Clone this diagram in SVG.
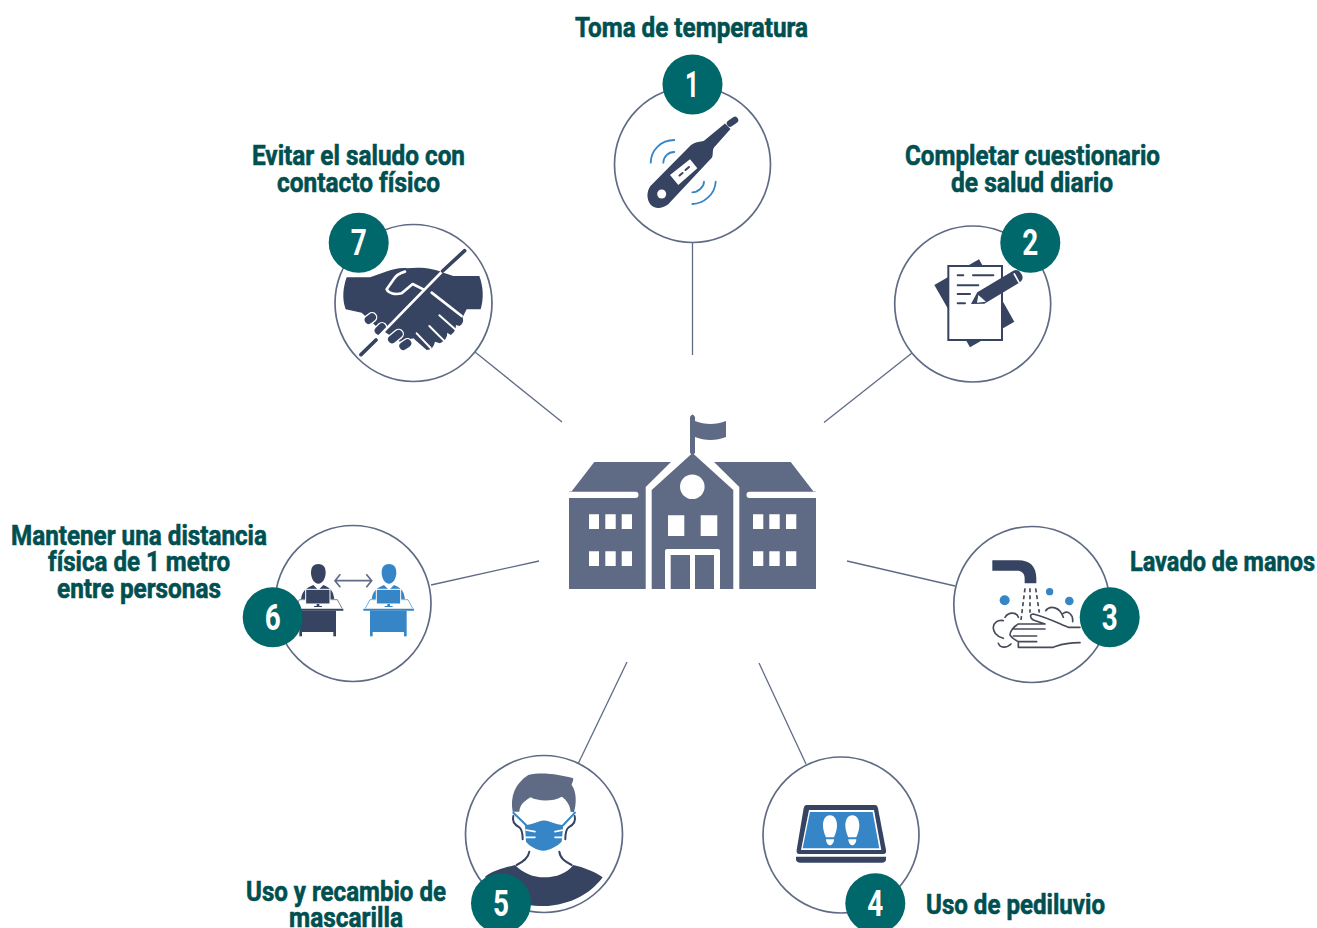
<svg xmlns="http://www.w3.org/2000/svg" width="1317" height="928" viewBox="0 0 1317 928">
<style>
.ring{fill:#fff;stroke:#5f6b85;stroke-width:1.7}
.link{stroke:#5f6b85;stroke-width:1.3;fill:none}
.badge{fill:#00676a}
.num{font-family:"Roboto","Liberation Sans",sans-serif;font-weight:700;font-size:37px;fill:#fff}
.lab{font-family:"Roboto","Liberation Sans",sans-serif;font-weight:700;font-size:28px;fill:#004f51;stroke:#004f51;stroke-width:.6}
.navy{fill:#364361}.blue{fill:#3585c7}.slate{fill:#5f6b85}.white{fill:#fff}
.wl{fill:none;stroke:#fff;stroke-linecap:round;stroke-linejoin:round}
.nl{fill:none;stroke:#364361;stroke-linecap:round;stroke-linejoin:round}
.bl{fill:none;stroke:#3585c7;stroke-linecap:round;stroke-linejoin:round}
.hl{fill:none;stroke:#454b58;stroke-width:5;stroke-linecap:round;stroke-linejoin:round}
</style>
<defs>
<g id="worker">
<path d="M213 128C213 110 222 102 235 102C248 102 257 110 257 128C257 145 247 161 235 161C223 161 213 145 213 128Z"/>
<path d="M183 208C186 185 196 175 220 165L235 180L250 165C274 175 280 185 283 208Z"/>
<path d="M178 208H292L308 236H160Z" fill="#fff" stroke="#fff" stroke-width="1"/>
<path d="M178 209H292L306 235M178 209L164 235" fill="none" stroke="currentColor" stroke-width="2"/>
<rect x="197" y="178" width="73" height="44" stroke="#fff" stroke-width="3"/>
<rect x="230" y="222" width="8" height="6"/><rect x="222" y="228" width="24" height="3"/>
<path d="M158 236H310V242H158Z"/>
<rect x="178" y="242" width="110" height="64"/>
<rect x="178" y="306" width="8" height="13"/><rect x="280" y="306" width="8" height="13"/>
</g>
</defs>
<g id="connectors">
<path class="link" d="M692.5 243V355"/>
<path class="link" d="M912 353L824 422.5"/>
<path class="link" d="M955 586L847 561"/>
<path class="link" d="M806 764L759 663"/>
<path class="link" d="M578 764L627 662"/>
<path class="link" d="M431 585L539 561"/>
<path class="link" d="M475 352L562 422"/>
</g>
<g id="school">
<path class="slate" d="M690 453V417Q692.500 412 695 417V421C705 425 716 425 726 421V437C716 441 705 441 695 437V453L692.500 455Z"/>
<path class="slate" d="M692.500 453L733.300 490V589H651.700V490Z"/>
<path class="slate" d="M594.300 462H671L645.700 487V589H569V491.500H571.500Z"/>
<path class="slate" d="M790.700 462H714L739.300 487V589H816V491.500H813.500Z"/>
<rect class="white" x="560" y="491.700" width="78.500" height="6.300" rx="3"/>
<rect class="white" x="746.500" y="491.700" width="78.500" height="6.300" rx="3"/>
<circle class="white" cx="692.300" cy="486.700" r="12.300"/>
<path class="white" d="M589 514.300H599V529H589ZM605.300 514.300H615.700V529H605.300ZM621.700 514.300H632V529H621.700ZM589 551.300H599V566H589ZM605.300 551.300H615.700V566H605.300ZM621.700 551.300H632V566H621.700ZM753 514.300H763.300V529H753ZM769.300 514.300H779.700V529H769.300ZM786 514.300H796.300V529H786ZM753 551.300H763.300V566H753ZM769.300 551.300H779.700V566H769.300ZM786 551.300H796.300V566H786ZM668 515.300H684.300V536H668ZM700.700 515.300H717.300V536H700.700Z"/>
<rect class="white" x="665" y="549" width="55" height="41" rx="2"/>
<path class="slate" d="M670.700 555H690V589H670.700ZM695 555H714V589H695Z"/>
</g>
<g id="node1">
<circle class="ring" cx="692.500" cy="164.500" r="78"/>
<path class="navy" d="M650.200 186.200L691 145C696 141.500 700 142 704 140.700L725 123.500L730.500 129L714 147.500C712 151 713.500 154 712 157.500L668 204.500C661 209.500 654 208.500 650.500 204.500C646.500 199 646.500 192 650.200 186.200Z"/>
<path class="nl" stroke-width="6.500" d="M730 123.500L735 120"/>
<circle class="white" cx="661.700" cy="194" r="4.500"/>
<path class="white" d="M670 175L690 159.300L697.300 168.300L678.300 185Z"/>
<path class="nl" stroke-width="2" d="M679.500 175.500L682.500 173M685.500 170L689 167"/>
<path class="bl" stroke-width="1.800" d="M650.700 162.700C651 150 661 140 674.300 140M663.300 162.700C663.500 157 668 152 674.300 152M704 181.700C704 187 698 192.300 692.300 192.300M715.700 181.700C715 194 704 204 692.300 204"/>
</g>
<g id="node2">
<circle class="ring" cx="972.700" cy="304" r="78"/>
<g transform="translate(885 205) scale(.3333)">
<path class="navy" d="M148 240L282 163L388 350L255 427Z"/>
<rect x="190" y="183" width="161" height="222" fill="#fff" stroke="#364361" stroke-width="6"/>
<path class="nl" stroke-width="6" d="M218 211H235M264 211H325M218 241H280M218 267H255M218 295H240"/>
<path class="navy" d="M258 297L277 262L385 197Q400 190 410 208Q418 222 405 232L298 296Z"/>
<path class="white" d="M280 270L303 290L276 293Z"/>
<path class="wl" stroke-width="5" d="M388 207L402 232"/>
</g>
</g>
<g id="node3">
<circle class="ring" cx="1031.800" cy="604.500" r="78"/>
<g transform="translate(950 530) scale(.3333)">
<path class="navy" d="M127 91H205C240 91 259 110 259 145V160H224V145C224 130 215 122 200 122H127Z"/>
<path d="M225 175L213 270M240 175V248M257 175L268 248" fill="none" stroke="#454b58" stroke-width="5" stroke-dasharray="12 9"/>
<circle class="blue" cx="164" cy="211" r="15"/><circle class="blue" cx="299" cy="185" r="11"/><circle class="blue" cx="358" cy="213" r="13"/>
<path class="hl" d="M390 292H355C335 285 300 265 250 252C240 252 238 262 250 270L285 282H205C190 290 180 305 180 315C185 325 195 330 205 335V352H310C330 345 340 338 390 338M190 297H285M190 318H260M205 335H260M160 272C125 265 115 312 160 325M165 262C175 245 200 245 205 262M145 340C150 355 170 355 183 342M287 242C300 225 330 230 340 262M340 250C355 240 370 255 368 275"/>
</g>
</g>
<g id="node4">
<circle class="ring" cx="841" cy="835" r="78"/>
<g transform="translate(760 760) scale(.3333)">
<path class="navy" d="M140 135H345Q352 135 354 145L378 270Q380 282 370 282H118Q108 282 110 270L131 145Q133 135 140 135Z"/>
<path class="white" d="M147 150H342L364 270H123Z"/>
<path class="blue" d="M150 156H338L358 265H128Z"/>
<path class="navy" d="M108 290H378V298Q378 308 365 308H122Q108 308 108 298Z"/>
<path class="white" d="M210 166C224 166 231 180 231 196C231 212 224 228 222 232H198C196 228 189 212 189 196C189 180 196 166 210 166ZM198 238H222C222 250 214 256 210 256C204 256 198 248 198 238ZM277 166C291 166 298 180 298 196C298 212 291 228 289 232H265C263 228 256 212 256 196C256 180 263 166 277 166ZM265 238H289C289 250 281 256 277 256C271 256 265 248 265 238Z"/>
</g>
</g>
<g id="node5">
<circle class="ring" cx="544" cy="834" r="78.500"/>
<g transform="translate(460 750) scale(.3333)">
<path class="slate" d="M158 185C150 140 165 100 205 75C250 65 300 75 340 85C340 95 335 100 335 105C350 125 350 160 342 187L332 185C330 165 320 150 305 140C280 155 235 155 212 142C190 155 180 165 178 185Z"/>
<path class="nl" stroke-width="6" d="M160 198C155 215 165 225 178 232C188 240 188 255 188 268M344 198C349 215 339 225 326 232C316 240 316 255 316 268M208 305C205 325 190 335 170 345M298 305C300 325 315 335 335 345"/>
<path class="navy" d="M75 380C100 360 140 352 165 345C190 370 220 382 252 382C290 382 320 370 340 345C370 352 405 365 428 382C400 420 350 460 265 468C200 470 120 460 75 380Z"/>
<path class="bl" stroke-width="6" d="M160 188L198 225M345 188L310 225"/>
<path class="blue" d="M195 225C220 225 240 210 252 212C265 210 285 225 310 225L305 275C290 290 270 300 250 302C230 300 210 290 198 275Z"/>
<path class="wl" stroke-width="5" d="M198 240L225 245M198 262H225M285 245L310 240M285 262H310"/>
</g>
</g>
<g id="node6">
<circle class="ring" cx="353" cy="603.500" r="78"/>
<g transform="translate(240 530) scale(.3333)">
<use href="#worker" fill="#364361" color="#364361"/>
<use href="#worker" x="212" fill="#3585c7" color="#3585c7"/>
<path fill="none" stroke="#5f6b85" stroke-width="5" d="M287 152H393M301 133L285 152L301 172M379 133L395 152L379 172"/>
</g>
</g>
<g id="node7">
<circle class="ring" cx="413.500" cy="303" r="78.500"/>
<g transform="translate(320 210) scale(.3333)">
<path class="navy" d="M80 202H150C190 190 225 170 262 175C300 170 345 175 375 190L400 198H478C490 230 492 265 482 298H440L428 322Q434 340 418 348L408 345Q408 365 392 375L382 368Q382 390 360 400L345 395Q340 420 320 420L280 385L240 395L170 350L125 308L77 298C65 265 70 230 80 202Z"/>
<path class="wl" stroke-width="8" d="M255 185C235 190 225 200 218 212L200 238C205 250 225 255 245 250L278 222L310 238M335 248L425 318"/>
<path class="wl" stroke-width="6" d="M358 316L408 360M328 348L372 392M290 370L332 414"/>
<g class="wl" stroke-width="32"><path d="M146 330L156 322M176 362L186 352M216 388L236 372M250 408L262 400"/></g>
<g class="nl" stroke-width="24"><path d="M146 330L156 322M176 362L186 352M216 388L236 372M250 408L262 400"/></g>
<path class="wl" stroke-width="8" d="M168 388L368 183"/>
<path class="nl" stroke-width="11" d="M123 434L168 390M368 183L434 122"/>
</g>
</g>
<g id="badges">
<g id="badge1"><circle class="badge" cx="692.500" cy="84.500" r="30"/><text class="num" x="685" y="97" textLength="14" lengthAdjust="spacingAndGlyphs">1</text></g>
<g id="badge2"><circle class="badge" cx="1030.300" cy="242.700" r="30"/><text class="num" x="1022.300" y="255" textLength="16" lengthAdjust="spacingAndGlyphs">2</text></g>
<g id="badge3"><circle class="badge" cx="1109.700" cy="617.300" r="30"/><text class="num" x="1101.700" y="629.500" textLength="16" lengthAdjust="spacingAndGlyphs">3</text></g>
<g id="badge4"><circle class="badge" cx="875.300" cy="903.300" r="30"/><text class="num" x="867.300" y="915.500" textLength="16" lengthAdjust="spacingAndGlyphs">4</text></g>
<g id="badge5"><circle class="badge" cx="501" cy="903.300" r="30"/><text class="num" x="493" y="915.500" textLength="16" lengthAdjust="spacingAndGlyphs">5</text></g>
<g id="badge6"><circle class="badge" cx="272.700" cy="617.300" r="30"/><text class="num" x="264.700" y="629.500" textLength="16" lengthAdjust="spacingAndGlyphs">6</text></g>
<g id="badge7"><circle class="badge" cx="358.700" cy="242.700" r="30"/><text class="num" x="350.700" y="255" textLength="16" lengthAdjust="spacingAndGlyphs">7</text></g>
</g>
<g id="labels">
<text class="lab" x="575" y="37" textLength="233" lengthAdjust="spacingAndGlyphs">Toma de temperatura</text>
<text class="lab" x="905" y="164.500" textLength="255" lengthAdjust="spacingAndGlyphs">Completar cuestionario</text>
<text class="lab" x="951" y="191.500" textLength="162" lengthAdjust="spacingAndGlyphs">de salud diario</text>
<text class="lab" x="1130" y="570.500" textLength="185" lengthAdjust="spacingAndGlyphs">Lavado de manos</text>
<text class="lab" x="926" y="913.500" textLength="179" lengthAdjust="spacingAndGlyphs">Uso de pediluvio</text>
<text class="lab" x="246" y="900.500" textLength="200" lengthAdjust="spacingAndGlyphs">Uso y recambio de</text>
<text class="lab" x="289" y="926.500" textLength="114" lengthAdjust="spacingAndGlyphs">mascarilla</text>
<text class="lab" x="11" y="544.500" textLength="256" lengthAdjust="spacingAndGlyphs">Mantener una distancia</text>
<text class="lab" x="48" y="571" textLength="182" lengthAdjust="spacingAndGlyphs">física de 1 metro</text>
<text class="lab" x="57" y="597.500" textLength="164" lengthAdjust="spacingAndGlyphs">entre personas</text>
<text class="lab" x="252" y="164.500" textLength="213" lengthAdjust="spacingAndGlyphs">Evitar el saludo con</text>
<text class="lab" x="277" y="191.500" textLength="163" lengthAdjust="spacingAndGlyphs">contacto físico</text>
</g>
</svg>
